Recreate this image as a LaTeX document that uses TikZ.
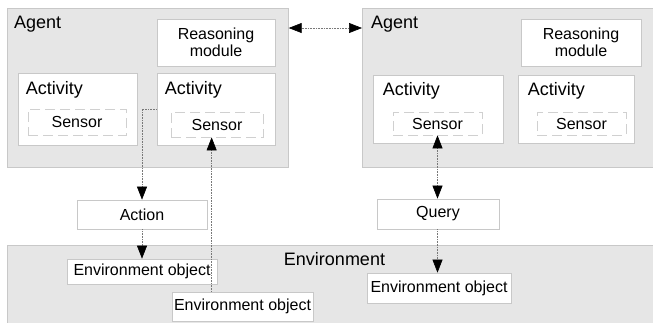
\documentclass[tikz,border=0pt]{standalone}
\usepackage{fontspec}
\setmainfont{Liberation Sans}
\usetikzlibrary{positioning,arrows.meta,calc}
\definecolor{regionfill}{RGB}{230,230,230}
\definecolor{boxline}{RGB}{200,200,200}
\definecolor{dashline}{RGB}{208,208,208}
\definecolor{flowline}{RGB}{120,120,120}

\begin{document}
\begin{tikzpicture}[x=1pt,y=-1pt,
    region/.style={draw=boxline,fill=regionfill,line width=0.7pt,inner sep=0pt},
    box/.style={draw=boxline,fill=white,line width=0.7pt,inner sep=0pt,
      font=\fontsize{16}{18}\selectfont,align=center},
    sensorbox/.style={draw=dashline,fill=white,line width=0.7pt,inner sep=0pt,
      dash pattern=on 10pt off 5pt,font=\fontsize{16}{18}\selectfont},
    title/.style={anchor=base west,inner sep=0pt,font=\fontsize{18}{20}\selectfont},
    flow/.style={draw=flowline,densely dotted,line width=0.6pt,
      >={Triangle[length=13pt,width=10pt,black]}}
  ]
  \useasboundingbox (0,0) rectangle (653,322);

  % the environment
  \node[region,minimum width=660pt,minimum height=90pt,anchor=north west] (env) at (7,245) {};
  \node[title,anchor=base] (envlabel) at ([yshift=-20pt]env.north -| 334.5,0) {Environment};

  % the left agent
  \node[region,minimum width=281pt,minimum height=159pt,anchor=north west] (agentL) at (7,8) {};
  \node[title] (agentLlabel) at ([xshift=7pt,yshift=-20pt]agentL.north west) {Agent};
  \node[box,minimum width=118pt,minimum height=47pt] (reasonL) at (216,42.5) {Reasoning\\[-1pt]module};
  \node[box,minimum width=119pt,minimum height=72pt] (actL1) at (77.5,109) {};
  \node[box,minimum width=118pt,minimum height=72pt] (actL2) at (216,109) {};
  \node[title] at ([xshift=8pt,yshift=-22pt]actL1.north west) {Activity};
  \node[title] at ([xshift=8pt,yshift=-22pt]actL2.north west) {Activity};
  \node[sensorbox,minimum width=98pt,minimum height=26pt] (sensorL1) at (77,122) {Sensor};
  \node[sensorbox,minimum width=92pt,minimum height=25pt] (sensorL2) at (217,124.5) {Sensor};

  % the right agent
  \node[region,minimum width=300pt,minimum height=159pt,anchor=north west] (agentR) at (362,8) {};
  \node[title] (agentRlabel) at ([xshift=9pt,yshift=-20pt]agentR.north west) {Agent};
  \node[box,minimum width=120pt,minimum height=47pt] (reasonR) at (581,42.5) {Reasoning\\[-1pt]module};
  \node[box,minimum width=130pt,minimum height=68pt] (actR1) at (438,109) {};
  \node[box,minimum width=116pt,minimum height=68pt] (actR2) at (576,109) {};
  \node[title] at ([xshift=10pt,yshift=-21pt]actR1.north west) {Activity};
  \node[title] at ([xshift=10pt,yshift=-21pt]actR2.north west) {Activity};
  \node[sensorbox,minimum width=89pt,minimum height=23pt] (sensorR1) at (437.5,123.5) {Sensor};
  \node[sensorbox,minimum width=89pt,minimum height=23pt] (sensorR2) at (581.5,123.5) {Sensor};

  % messages between the agents and the environment
  \node[box,minimum width=130pt,minimum height=29pt] (action) at (142,214.5) {Action};
  \node[box,minimum width=122pt,minimum height=30pt] (query) at (438,214) {Query};
  \node[box,minimum width=150pt,minimum height=25pt] (objL1) at (142,271.5) {Environment object};
  \node[box,minimum width=141pt,minimum height=29pt] (objL2) at (242.5,306.5) {Environment object};
  \node[box,minimum width=144pt,minimum height=30pt] (objR) at (439,288) {Environment object};
  \coordinate (tap) at ($(objL2.north west)+(40,0)$);

  % the edges
  \draw[flow,<->] ([yshift=-20pt]agentL.north east) -- ([yshift=-20pt]agentR.north west);
  \draw[flow,->] (actL2.west) -| (action.north);
  \draw[flow,->] (action.south) -- (objL1.north);
  \draw[flow,->] (tap) -- (tap |- sensorL2.south);
  \draw[flow,<->] (sensorR1.south) -- (sensorR1.south |- query.north);
  \draw[flow,->] (query.south -| sensorR1.south) -- (sensorR1.south |- objR.north);
\end{tikzpicture}
\end{document}
